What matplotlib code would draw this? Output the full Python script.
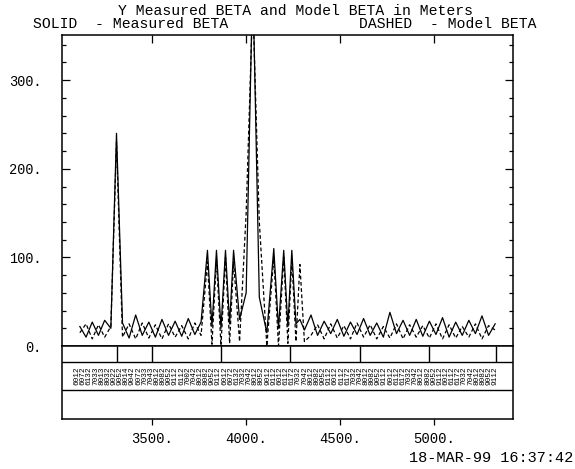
import matplotlib
matplotlib.use('Agg')
import matplotlib.pyplot as plt
import numpy as np
from matplotlib.ticker import MultipleLocator, FixedLocator, NullLocator

# ---------------- data ----------------
s_pos = [
    3115, 3148, 3181, 3214, 3247, 3280,
    3310,
    3342, 3377, 3412, 3447, 3482, 3517, 3552, 3587, 3622, 3657, 3692, 3727, 3760,
    3794, 3818, 3842, 3866, 3890, 3912, 3933, 3965, 4000, 4035, 4070, 4110, 4147,
    4172, 4200, 4222, 4243, 4265, 4286, 4310,
    4345, 4380, 4415, 4450, 4485, 4520, 4555, 4590, 4625, 4660, 4695, 4730, 4765,
    4800, 4835, 4870, 4905, 4940, 4975, 5010, 5045, 5080, 5115, 5150, 5185, 5220,
    5255, 5290, 5325,
]

beta_measured = [
    22, 10, 27, 12, 29, 20,
    240,
    26, 9, 35, 12, 27, 10, 30, 12, 28, 11, 31, 13, 27,
    108, 22, 108, 20, 108, 25, 108, 30, 60, 420, 55, 15, 110,
    20, 108, 22, 108, 25, 30, 18,
    35, 12, 28, 14, 30, 11, 27, 13, 31, 12, 26, 10, 38,
    14, 29, 12, 30, 11, 28, 13, 32, 10, 27, 12, 29, 14,
    34, 12, 25,
]

beta_model = [
    15, 25, 8, 24, 10, 22,
    230,
    10, 25, 8, 26, 9, 24, 8, 25, 10, 23, 8, 26, 12,
    95, 2, 98, 0, 100, 3, 95, 5, 150, 390, 140, 0, 100,
    0, 100, 3, 98, 5, 92, 5,
    12, 24, 8, 25, 9, 23, 8, 26, 10, 24, 8, 22, 9,
    25, 8, 24, 10, 23, 9, 25, 8, 24, 9, 22, 10, 25,
    8, 23, 18,
]

bpm_names = [
    "6012", "6072", "6132", "7033", "8013", "8032", "9022", "9052",
    "8014", "9042", "6072", "7033", "7043", "8012", "8082", "9052",
    "9112", "6112", "7002", "7042", "8012", "8082", "9052", "9112",
    "6012", "6072", "6132", "7032", "7042", "8012", "8052", "9012",
    "9112", "6012", "6112", "6172", "7032", "7042", "8012", "8082",
    "9052", "9112", "6012", "6112", "6172", "7032", "7042", "8012",
    "8082", "9052", "9112", "6012", "6112", "6172", "7032", "7042",
    "8012", "8082", "9052", "9112", "6012", "6112", "6172", "7032",
    "7042", "8012", "8082", "9052", "9112",
]

sector_bounds = [3313, 3500, 3866, 4235, 4604, 4972, 5330]

x_ticks = [3500, 4000, 4500, 5000]
x_tick_labels = ["3500.", "4000.", "4500.", "5000."]
y_ticks = [0, 100, 200, 300]
y_tick_labels = ["0.", "100.", "200.", "300."]

title = "Y Measured BETA and Model BETA in Meters"
legend_left = "SOLID  - Measured BETA"
legend_right = "DASHED  - Model BETA"
timestamp = "18-MAR-99 16:37:42"

# ---------------- figure ----------------
W, H = 575, 469
fig = plt.figure(figsize=(W / 100, H / 100), dpi=100)
mono = "Liberation Mono"

def fx(px):
    return px / W

def fy(py):
    return 1 - py / H

XMIN, XMAX = 3020, 5420

ax = fig.add_axes([fx(62), fy(346), fx(513) - fx(62), fy(35) - fy(346)])
ax.plot(s_pos, beta_measured, color="black", lw=0.9)
ax.plot(s_pos, beta_model, color="black", lw=0.9, linestyle=(0, (3, 2)))
ax.set_xlim(XMIN, XMAX)
ax.set_ylim(0, 351)

ax.yaxis.set_major_locator(FixedLocator(y_ticks))
ax.set_yticklabels(y_tick_labels, fontfamily=mono, fontsize=9.8)
ax.yaxis.set_minor_locator(MultipleLocator(20))
ax.tick_params(axis="y", which="major", direction="in", length=5.5, width=0.9,
               left=True, right=True, pad=15)
ax.tick_params(axis="y", which="minor", direction="in", length=3, width=0.9,
               left=True, right=True)
ax.xaxis.set_major_locator(FixedLocator(x_ticks))
ax.xaxis.set_minor_locator(NullLocator())
ax.tick_params(axis="x", which="major", direction="in", length=6, width=0.9,
               top=True, bottom=False, labelbottom=False)
for sp in ax.spines.values():
    sp.set_linewidth(1.1)

# ---------------- band with BPM names ----------------
ax2 = fig.add_axes([fx(62), fy(419), fx(513) - fx(62), fy(346) - fy(419)])
ax2.set_xlim(XMIN, XMAX)
ax2.set_ylim(419, 346)
ax2.yaxis.set_major_locator(NullLocator())
ax2.axhline(362, color="black", lw=1.0)
ax2.axhline(390, color="black", lw=1.0)
ax2.vlines(sector_bounds, 346, 362, color="black", lw=1.0)
ax2.xaxis.set_major_locator(FixedLocator(x_ticks))
ax2.set_xticklabels(x_tick_labels, fontfamily=mono, fontsize=10)
ax2.tick_params(axis="x", which="major", direction="out", length=4, width=0.9,
                pad=5)
for sp in ax2.spines.values():
    sp.set_linewidth(1.1)

# BPM names spread evenly along the band (as printed by the original program)
name_x = np.linspace(s_pos[0] - 15, s_pos[-1], len(bpm_names))
for xs, name in zip(name_x, bpm_names):
    ax2.text(xs, 376, name, rotation=90, ha="center", va="center",
             fontfamily=mono, fontsize=5.6, color="black")

# ---------------- texts ----------------
fig.text(fx(296), fy(11), title, ha="center", va="center",
         fontfamily=mono, fontsize=10.6)
fig.text(fx(33), fy(24), legend_left, ha="left", va="center",
         fontfamily=mono, fontsize=10.6)
fig.text(fx(359), fy(24), legend_right, ha="left", va="center",
         fontfamily=mono, fontsize=10.6)
fig.text(fx(573), fy(458), timestamp, ha="right", va="center",
         fontfamily=mono, fontsize=11)

fig.savefig("out.png", dpi=100, facecolor="white")
